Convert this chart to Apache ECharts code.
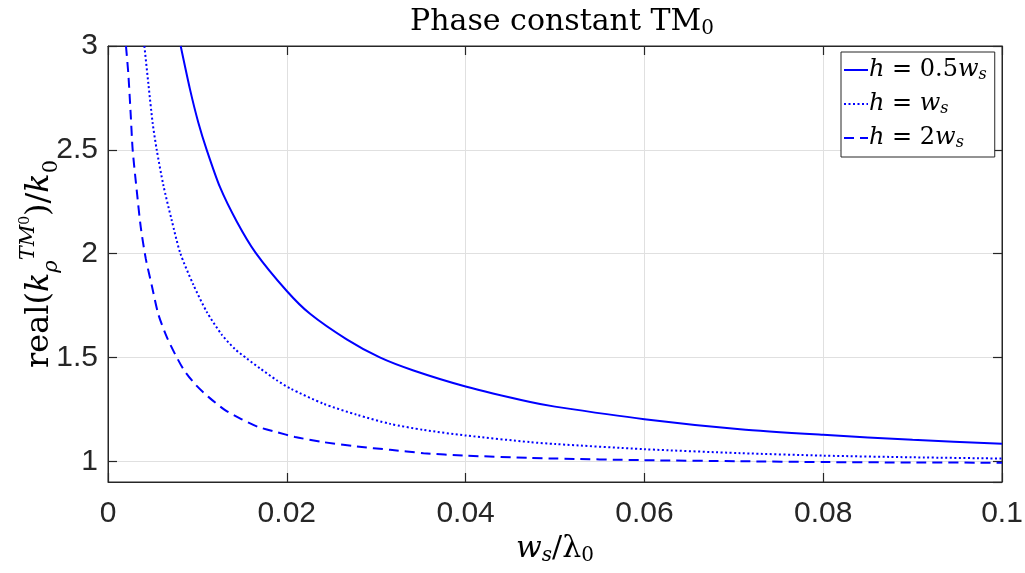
<!DOCTYPE html>
<html><head><meta charset="utf-8">
<script src="https://cdn.jsdelivr.net/npm/echarts@6/dist/echarts.min.js"></script>
<style>html,body{margin:0;padding:0;background:#fff}#c{width:1025px;height:573px}</style>
</head><body><div id="c"></div>
<script>
// ---- data ----
const seriesNames = ['h05', 'h1', 'h2'];
const legendLabels = {
  h05: '{i|h} = 0.5{i|w}{s|s}',
  h1: '{i|h} = {i|w}{s|s}',
  h2: '{i|h} = 2{i|w}{s|s}'
};
const xSolid = [0.00813, 0.00918, 0.0101, 0.01104, 0.01253, 0.0144, 0.0165, 0.0200, 0.0226, 0.0267, 0.0304, 0.03417, 0.0400, 0.04723, 0.0500, 0.0600, 0.0707, 0.0800, 0.0900, 0.1000];
const ySolid = [3.0, 2.79, 2.632, 2.5, 2.32, 2.155, 2.005, 1.82, 1.71, 1.587, 1.50, 1.437, 1.36, 1.285, 1.263, 1.2025, 1.154, 1.127, 1.103, 1.084];
const xDotted = [0.00407, 0.00451, 0.0050, 0.00545, 0.00619, 0.00713, 0.0081, 0.00955, 0.01104, 0.01272, 0.01421, 0.01552, 0.01701, 0.01888, 0.02037, 0.0241, 0.02783, 0.03156, 0.03529, 0.0400, 0.04723, 0.0500, 0.0600, 0.0707, 0.0800, 0.0900, 0.1000];
const yDotted = [3.0, 2.82, 2.627, 2.5, 2.33, 2.16, 2.0, 1.85, 1.72, 1.61, 1.54, 1.495, 1.447, 1.39, 1.351, 1.277, 1.224, 1.18, 1.151, 1.124, 1.092, 1.083, 1.058, 1.039, 1.027, 1.019, 1.013];
const xDashed = [0.00201, 0.00227, 0.00254, 0.00276, 0.00321, 0.00366, 0.00422, 0.00489, 0.00563, 0.00657, 0.0075, 0.0085, 0.00985, 0.01123, 0.0131, 0.01496, 0.01682, 0.01888, 0.02093, 0.0241, 0.02783, 0.03156, 0.03529, 0.0400, 0.04723, 0.0500, 0.0600, 0.0707, 0.0800, 0.0900, 0.1000];
const yDashed = [3.0, 2.868, 2.67, 2.5, 2.306, 2.129, 1.977, 1.848, 1.708, 1.599, 1.516, 1.439, 1.366, 1.31, 1.246, 1.202, 1.165, 1.14, 1.117, 1.092, 1.071, 1.055, 1.039, 1.027, 1.016, 1.013, 1.005, 1.0, 0.996, 0.994, 0.993];
const yTicks = [1, 1.5, 2, 2.5, 3];

const pair = (xs, ys) => xs.map((x, i) => [x, ys[i]]);
const AX = '#262626', GRID = '#e0e0e0', BLUE = '#0000ff';
const SANS = 'Liberation Sans', SERIF = 'DejaVu Serif';

const chart = echarts.init(document.getElementById('c'), null, {renderer: 'canvas'});
const baseX = {type: 'value', min: 0, max: 0.1, interval: 0.02};
const baseY = {type: 'value', min: 0.9, max: 3, splitNumber: 4};
const line = {show: true, onZero: false, lineStyle: {color: AX, width: 1}};
const tick = {show: true, inside: true, length: 9, lineStyle: {color: AX, width: 1.2}};
const option = {
  animation: false,
  backgroundColor: '#fff',
  title: {
    text: 'Phase constant TM{s|0}',
    left: 557, top: 0, textAlign: 'center',
    textStyle: {fontFamily: SERIF, fontSize: 30, fontWeight: 'normal', color: '#000',
      rich: {s: {fontFamily: SERIF, fontSize: 20, verticalAlign: 'bottom', padding: [14, 0, 0, 0]}}}
  },
  grid: {left: 108, right: 23, top: 46, bottom: 91, outerBoundsMode: 'none', containLabel: false,
         show: true, borderColor: AX, borderWidth: 1, backgroundColor: '#fff'},
  legend: {
    data: seriesNames, orient: 'vertical', left: 841, top: 52,
    itemWidth: 24, itemHeight: 14, itemGap: 9,
    padding: [6, 8, 6, 2], borderColor: AX, borderWidth: 1, backgroundColor: '#fff',
    itemStyle: {opacity: 0},
    formatter: n => legendLabels[n],
    textStyle: {fontFamily: SERIF, fontSize: 24, color: '#000', padding: [0, 0, 0, -4],
      rich: {i: {fontFamily: SERIF, fontStyle: 'italic', fontSize: 24},
             s: {fontFamily: SERIF, fontStyle: 'italic', fontSize: 16, verticalAlign: 'bottom', padding: [10, 0, 0, 0]}}}
  },
  xAxis: [
    Object.assign({}, baseX, {
      position: 'bottom',
      name: '{i|w}{s|s}/λ{t|0}', nameLocation: 'middle', nameGap: 50, nameMoveOverlap: false,
      nameTextStyle: {fontFamily: SERIF, fontSize: 30, color: '#000',
        rich: {i: {fontFamily: SERIF, fontStyle: 'italic', fontSize: 30},
               s: {fontFamily: SERIF, fontStyle: 'italic', fontSize: 20, verticalAlign: 'bottom', padding: [14, 0, 0, 0]},
               t: {fontFamily: SERIF, fontSize: 20, verticalAlign: 'bottom', padding: [14, 0, 0, 0]}}},
      axisLine: line, axisTick: tick,
      axisLabel: {fontFamily: SANS, fontSize: 30, color: AX, margin: 17,
        formatter: v => (v === 0 ? '0' : String(+v.toFixed(2)))},
      splitLine: {show: true, lineStyle: {color: GRID, width: 1}}
    }),
    Object.assign({}, baseX, {
      position: 'top', axisLine: line, axisTick: tick,
      axisLabel: {show: false}, splitLine: {show: false}
    })
  ],
  yAxis: [
    Object.assign({}, baseY, {
      position: 'left',
      name: 'real({i|k}{sb|ρ}{sp|TM}{ss|0})/{i|k}{t|0}', nameLocation: 'middle', nameGap: 46, nameRotate: 90,
      nameMoveOverlap: false,
      nameTextStyle: {fontFamily: SERIF, fontSize: 32, color: '#000', lineHeight: 44,
        rich: {i: {fontFamily: SERIF, fontStyle: 'italic', fontSize: 32},
               sb: {fontFamily: SERIF, fontStyle: 'italic', fontSize: 21, verticalAlign: 'bottom', padding: [15, 0, 0, 0]},
               sp: {fontFamily: SERIF, fontStyle: 'italic', fontSize: 21, verticalAlign: 'top', padding: [0, 0, 13, 0]},
               ss: {fontFamily: SERIF, fontSize: 14, verticalAlign: 'top', padding: [0, 0, 4, 0]},
               t: {fontFamily: SERIF, fontSize: 21, verticalAlign: 'bottom', padding: [15, 0, 0, 0]}}},
      axisLine: line, axisTick: tick,
      axisLabel: {fontFamily: SANS, fontSize: 30, color: AX, margin: 10, showMinLabel: false,
        formatter: v => (yTicks.indexOf(+v.toFixed(2)) >= 0 ? String(+v.toFixed(2)) : '')},
      splitLine: {show: true, lineStyle: {color: GRID, width: 1}}
    }),
    Object.assign({}, baseY, {
      position: 'right', axisLine: line, axisTick: tick,
      axisLabel: {show: false}, splitLine: {show: false}
    })
  ],
  series: [
    {name: 'h05', type: 'line', data: pair(xSolid, ySolid), smooth: 0.25, symbol: 'none', clip: true,
     lineStyle: {color: BLUE, width: 2, type: 'solid'}, itemStyle: {color: BLUE}},
    {name: 'h1', type: 'line', data: pair(xDotted, yDotted), smooth: 0.25, symbol: 'none', clip: true,
     lineStyle: {color: BLUE, width: 2, type: [2, 2.5]}, itemStyle: {color: BLUE}},
    {name: 'h2', type: 'line', data: pair(xDashed, yDashed), smooth: 0.25, symbol: 'none', clip: true,
     lineStyle: {color: BLUE, width: 2, type: [10, 6]}, itemStyle: {color: BLUE}}
  ]
};
chart.setOption(option);
</script>
</body></html>
